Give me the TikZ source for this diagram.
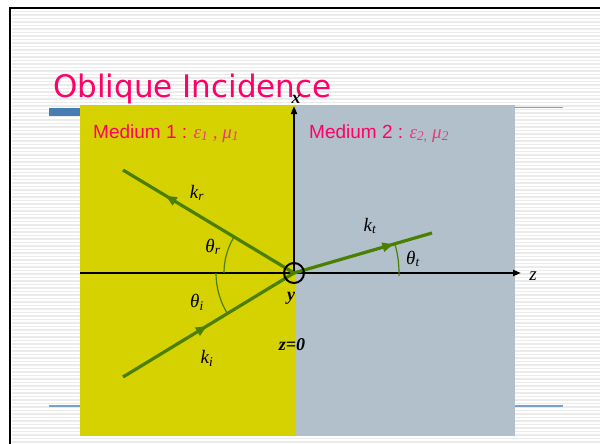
\documentclass[tikz,border=0pt]{standalone}
\usepackage{fontspec}
\setmainfont{Liberation Serif}
\newfontfamily\titlefont{DejaVu Sans}
\newfontfamily\arialfont{Liberation Sans}
\usetikzlibrary{arrows.meta,decorations.markings}
\definecolor{ttl}{RGB}{255,0,102}
\definecolor{grk}{RGB}{232,60,120}
\definecolor{yel}{RGB}{214,209,0}
\definecolor{gry}{RGB}{178,192,204}
\definecolor{grn}{RGB}{74,127,0}
\definecolor{barblue}{RGB}{70,126,180}
\definecolor{thinblue}{RGB}{120,160,200}
\begin{document}
\begin{tikzpicture}[x=1pt,y=-1pt,
  ray/.style={grn, line width=3.2pt},
  raymark/.style={postaction={decorate,decoration={markings,
      mark=at position #1 with {\arrow{Triangle[length=11pt,width=9pt]}}}}},
  anglearc/.style={grn, line width=1.2pt},
  axis/.style={black, line width=1.8pt},
  lbl/.style={font=\itshape\fontsize{19}{19}\selectfont, inner sep=0pt},
  blbl/.style={font=\bfseries\itshape\fontsize{18}{18}\selectfont, inner sep=0pt},
  medium/.style={anchor=base west, inner sep=0pt, text=ttl, font=\fontsize{19}{19}\selectfont}
]
\useasboundingbox (0,0) rectangle (600,444);
\fill[white] (0,0) rectangle (600,444);
% faint stripes
\foreach \yy in {11.5,15,...,444} \draw[black!8,line width=1.3pt] (12,\yy) -- (600,\yy);
% slide border
\draw[black, line width=2.5pt] (9,8) -- (600,8);
\draw[black, line width=2.5pt] (10,7) -- (10,444);
% title
\node[anchor=base west, inner sep=0pt, text=ttl, font=\titlefont\fontsize{31}{31}\selectfont] (title) at (53,97) {Oblique Incidence};
% decorative lines
\fill[barblue] (49,108) rectangle (80,116);
\draw[thinblue, line width=1.4pt] (515,107.5) -- (563,107.5);
\draw[thinblue, line width=1.4pt] (49,406) -- (80,406);
\draw[thinblue, line width=1.4pt] (515,406) -- (563,406);
% media
\fill[yel] (80,105) rectangle (296,436);
\fill[gry] (296,105) rectangle (515,436);
\node[medium] (m1) at (93,138) {{\arialfont Medium 1 :} {\itshape\color{grk}ε\textsubscript{1} , μ\textsubscript{1}}};
\node[medium] (m2) at (309,138) {{\arialfont Medium 2 :} {\itshape\color{grk}ε\textsubscript{2,} μ\textsubscript{2}}};
% coordinates
\coordinate (O) at (294,273);
\coordinate (zL) at (80,273);
\coordinate (zE) at (521,273);
\coordinate (xE) at (294,106);
\coordinate (A) at (123,377);
\coordinate (R) at (123,170);
\coordinate (T) at (432,233);
% axes
\draw[axis, -{Triangle[length=8pt,width=6pt]}] (zL) -- (zE);
\draw[axis, -{Triangle[length=8pt,width=6pt]}] (O) -- (xE);
% rays
\draw[ray, raymark=0.49] (A) -- (O);
\draw[ray, raymark=0.75] (O) -- (R);
\draw[ray, raymark=0.72] (O) -- (T);
% angle arcs
\draw[anglearc] (O) ++(180:70) arc[start angle=180, end angle=210.5, radius=70];
\draw[anglearc] (O) ++(180:78) arc[start angle=180, end angle=149, radius=78];
\draw[anglearc] (O) ++(1.5:105) arc[start angle=1.5, end angle=-15.5, radius=105];
% origin circle
\draw[black, line width=2pt] (O) circle[radius=10];
% labels
\node[lbl] (kr) at (197,193) {k\textsubscript{r}};
\node[lbl] (thr) at (213,247) {θ\textsubscript{r}};
\node[lbl] (thi) at (197,302) {θ\textsubscript{i}};
\node[lbl] (ki) at (207,358) {k\textsubscript{i}};
\node[lbl] (kt) at (370,226) {k\textsubscript{t}};
\node[lbl] (tht) at (413,259) {θ\textsubscript{t}};
\node[lbl] (zl) at (533,276) {z};
\node[blbl] (xl) at (296,99) {x};
\node[blbl] (yl) at (291,298) {y};
\node[blbl] (z0) at (292,345) {z=0};
\end{tikzpicture}
\end{document}
